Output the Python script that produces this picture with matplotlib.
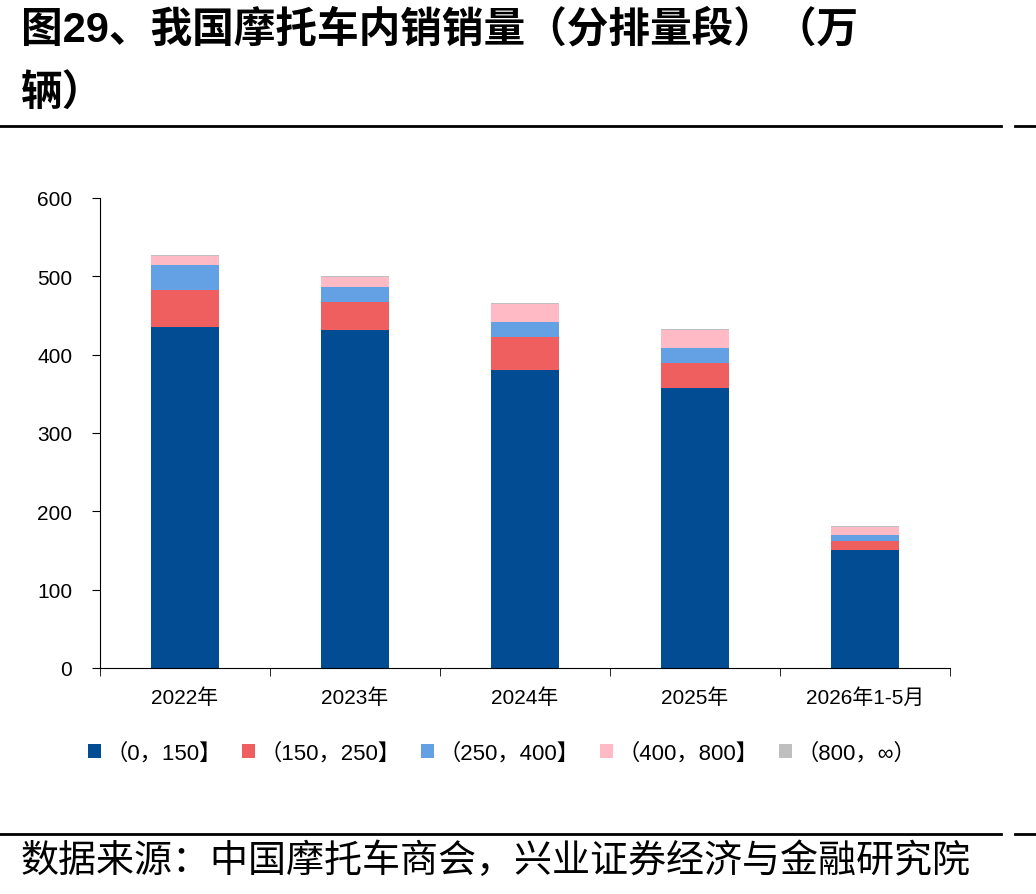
import numpy as np
import matplotlib
matplotlib.use("Agg")
import matplotlib.pyplot as plt
from matplotlib.lines import Line2D

plt.rcParams['font.family'] = ['Liberation Sans', 'Noto Sans CJK SC', 'DejaVu Sans']

years = ["2022年", "2023年", "2024年", "2025年", "2026年1-5月"]
seg_0_150 = [435, 432, 380, 358, 151]
seg_150_250 = [48, 35, 43, 32, 11.5]
seg_250_400 = [32, 20, 19, 18, 7]
seg_400_800 = [11.5, 12, 22.5, 23.5, 10.5]
seg_800_inf = [1, 1, 1, 1, 0.8]
labels = ["（0，150】", "（150，250】", "（250，400】", "（400，800】", "（800，∞）"]
colors = ["#024C94", "#EF5F5F", "#64A1E4", "#FFBAC6", "#BFBFBF"]

fig = plt.figure(figsize=(10.36, 8.95), dpi=100)

# 标题
fig.text(0.02, 0.966, "图29、我国摩托车内销销量（分排量段）（万", fontsize=30,
         fontweight="bold", va="center", ha="left")
fig.text(0.02, 0.894, "辆）", fontsize=30, fontweight="bold", va="center", ha="left")
fig.add_artist(Line2D([0, 0.966], [0.858, 0.858], color="black", lw=2))
fig.add_artist(Line2D([0.98, 1.0], [0.858, 0.858], color="black", lw=2))
fig.add_artist(Line2D([0, 0.966], [0.067, 0.067], color="black", lw=2))
fig.add_artist(Line2D([0.98, 1.0], [0.067, 0.067], color="black", lw=2))
fig.text(0.02, 0.037, "数据来源：中国摩托车商会，兴业证券经济与金融研究院", fontsize=27.4,
         va="center", ha="left")

ax = fig.add_axes([100 / 1036, 1 - 669 / 895, 850 / 1036, 470 / 895])

x = np.arange(len(years))
bottom = np.zeros(len(years))
for vals, lab, c in zip([seg_0_150, seg_150_250, seg_250_400, seg_400_800, seg_800_inf],
                        labels, colors):
    ax.bar(x, vals, width=0.4, bottom=bottom, color=c, label=lab)
    bottom += np.array(vals)

ax.set_ylim(0, 600)
ax.set_yticks(range(0, 601, 100))
ax.set_xlim(-0.5, len(years) - 0.5)
ax.set_xticks(x)
ax.set_xticklabels(years)
ax.set_xticks(np.arange(-0.5, len(years)), minor=True)
ax.tick_params(axis="x", which="major", length=0, pad=14, labelsize=15)
ax.tick_params(axis="x", which="minor", length=6, direction="out")
ax.tick_params(axis="y", length=6, labelsize=15, pad=14)
for s in ["top", "right"]:
    ax.spines[s].set_visible(False)

ax.legend(loc="upper center", bbox_to_anchor=(0.473, -0.115), ncol=5, frameon=False,
          fontsize=16, handlelength=0.6, handleheight=0.6, columnspacing=0.9,
          handletextpad=0.2)

fig.savefig("out.png", dpi=100)
